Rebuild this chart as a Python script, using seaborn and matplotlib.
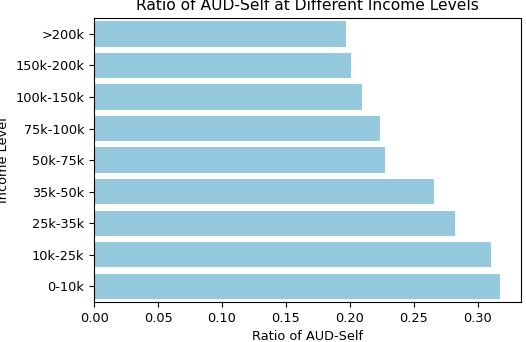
import matplotlib
matplotlib.use("Agg")
import matplotlib.pyplot as plt
import seaborn as sns
import pandas as pd

# Income levels, top to bottom as shown
income_levels = ['>200k', '150k-200k', '100k-150k', '75k-100k', '50k-75k',
                 '35k-50k', '25k-35k', '10k-25k', '0-10k']
aud_self_ratio = [0.1966, 0.2005, 0.2091, 0.2232, 0.2271,
                  0.2659, 0.2820, 0.3102, 0.3177]

df = pd.DataFrame({'Income Level': income_levels, 'Ratio of AUD-Self': aud_self_ratio})

plt.rcParams['font.size'] = 9.3

fig, ax = plt.subplots(figsize=(5.26, 3.42), dpi=100)
sns.barplot(data=df, x='Ratio of AUD-Self', y='Income Level', color='skyblue', ax=ax)

ax.set_title('Ratio of AUD-Self at Different Income Levels')
ax.set_xlabel('Ratio of AUD-Self')
ax.set_ylabel('Income Level')

plt.subplots_adjust(left=0.179, right=0.990, top=0.947, bottom=0.117)
plt.savefig('out.png', dpi=100)
